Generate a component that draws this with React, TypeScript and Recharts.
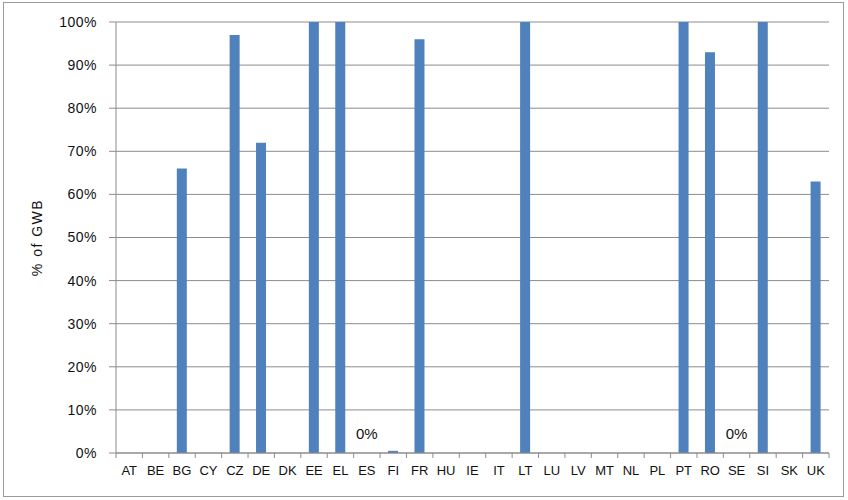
import React from "react";
import { ComposedChart, Bar, Line, XAxis, YAxis, CartesianGrid, LabelList } from "recharts";

const countries = ["AT","BE","BG","CY","CZ","DE","DK","EE","EL","ES","FI","FR","HU","IE","IT","LT","LU","LV","MT","NL","PL","PT","RO","SE","SI","SK","UK"];
const shares = [0,0,66,0,97,72,0,100,100,0,0.5,96,0,0,0,100,0,0,0,0,0,100,93,0,100,0,63];
const valueLabels = ["","","","","","","","","","0%","","","","","","","","","","","","","","0%","","",""];
const yTicks = [0,10,20,30,40,50,60,70,80,90,100];

const data = countries.map((c, i) => ({
  country: c,
  share: shares[i],
  label: valueLabels[i],
  labelAt: valueLabels[i] ? shares[i] : null,
}));

const W = 848;
const H = 500;
const M = { top: 22, right: 19, left: 0, bottom: 17 };
const Y_W = 116;
const X_H = 30;
const PLOT_W = W - M.left - M.right - Y_W;
const STEP = PLOT_W / countries.length;
const FONT = "'Liberation Sans', Arial, sans-serif";
const AXIS = "#8c8c8c";

const XTick = (props: any) => {
  const { x, y, payload, index } = props;
  const ax = y - 8;
  const last = index === countries.length - 1;
  return (
    <g>
      <line x1={x - STEP / 2} x2={x - STEP / 2} y1={ax} y2={ax + 5} stroke={AXIS} />
      {last && <line x1={x + STEP / 2} x2={x + STEP / 2} y1={ax} y2={ax + 5} stroke={AXIS} />}
      <text x={x} y={ax + 22} textAnchor="middle" fontSize={13} fontFamily={FONT} fill="#111">
        {payload.value}
      </text>
    </g>
  );
};

const ValueLabel = (props: any) => {
  const { x, y, index } = props;
  const txt = valueLabels[index];
  if (!txt || x == null || y == null) return null;
  return (
    <text x={x} y={y - 14} textAnchor="middle" fontSize={15} fontFamily={FONT} fill="#111">
      {txt}
    </text>
  );
};

export default function App() {
  return (
    <div style={{ position: "absolute", left: 0, top: 0, width: W, height: H, background: "#fff" }}>
      <ComposedChart width={W} height={H} data={data} margin={M} barCategoryGap={0}>
        <CartesianGrid horizontal vertical={false} stroke={AXIS} strokeWidth={1} />
        <XAxis
          dataKey="country"
          height={X_H}
          axisLine={{ stroke: AXIS }}
          tickLine={false}
          interval={0}
          tick={<XTick />}
        />
        <YAxis
          width={Y_W}
          domain={[0, 100]}
          ticks={yTicks}
          interval={0}
          tickFormatter={(v: number) => `${v}%`}
          axisLine={{ stroke: AXIS }}
          tickLine={{ stroke: AXIS }}
          tickSize={7}
          tickMargin={12}
          tick={{ fontSize: 14, letterSpacing: 0.5, fontFamily: FONT, fill: "#111" }}
          label={{
            content: (p: any) => {
              const vb = p.viewBox;
              const cx = 37;
              const cy = vb.y + vb.height / 2;
              return (
                <text x={cx} y={cy} transform={`rotate(-90 ${cx} ${cy})`} textAnchor="middle" dominantBaseline="central" fontSize={14} letterSpacing={1.5} fontFamily={FONT} fill="#111">
                  % of GWB
                </text>
              );
            },
          }}
        />
        <Bar dataKey="share" fill="#4f81bd" barSize={10} isAnimationActive={false} />
        <Line
          dataKey="labelAt"
          stroke="none"
          dot={false}
          activeDot={false}
          connectNulls={false}
          isAnimationActive={false}
        >
          <LabelList dataKey="label" content={<ValueLabel />} />
        </Line>
      </ComposedChart>
      <div
        style={{
          position: "absolute",
          left: 3,
          top: 2,
          width: 841,
          height: 495,
          boxSizing: "border-box",
          border: "1px solid #9a9a9a",
          zIndex: 10,
          pointerEvents: "none",
        }}
      />
    </div>
  );
}
